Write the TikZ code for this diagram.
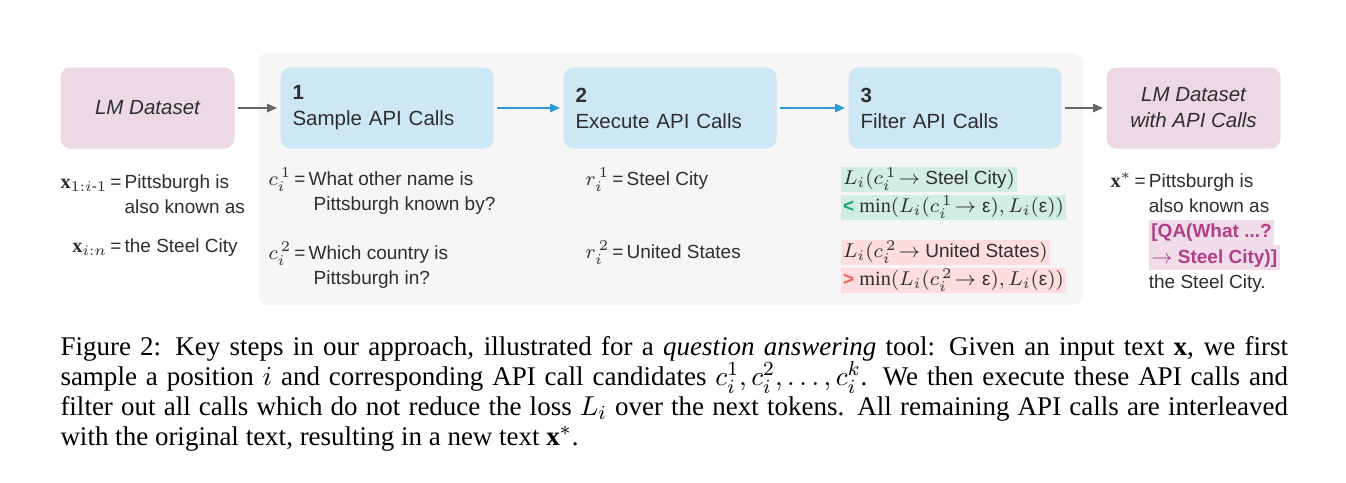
\documentclass[tikz,border=0pt]{standalone}
\usepackage{amsmath}
\usepackage{fontspec}
\setmainfont{Liberation Serif}
\newfontfamily\diagfont{Liberation Sans}
\usetikzlibrary{arrows.meta,positioning}

\definecolor{boxpink}{HTML}{EDD9E5}
\definecolor{boxblue}{HTML}{CDE7F5}
\definecolor{panelgray}{HTML}{F6F6F6}
\definecolor{textgray}{HTML}{2E2E2E}
\definecolor{arrowgray}{HTML}{666666}
\definecolor{arrowblue}{HTML}{2A98DA}
\definecolor{keepbg}{HTML}{D2EEE4}
\definecolor{keepsign}{HTML}{17A27A}
\definecolor{dropbg}{HTML}{FDDDDD}
\definecolor{dropsign}{HTML}{EF5F5A}
\definecolor{callbg}{HTML}{F2DCEA}
\definecolor{calltext}{HTML}{B0408A}

% math a little larger than the sans text
\DeclareMathSizes{7.6}{8.1}{6}{5}

% highlighted line of fixed height
\newcommand\hlline[2]{{\setlength\fboxsep{0pt}\colorbox{#1}{\rule[-2.8pt]{0pt}{10pt}\hspace{1pt}#2\hspace{1pt}}}}
\newcommand\eps{\text{ε}}

\begin{document}
\begin{tikzpicture}[x=0.4pt,y=-0.4pt,
	every node/.style={inner sep=0pt, text=textgray, font=\diagfont\fontsize{7.6}{10}\selectfont},
	databox/.style={fill=boxpink, rounded corners=4pt, minimum width=69.6pt, minimum height=32.4pt,
		align=center, font=\diagfont\itshape\fontsize{8.2}{10.4}\selectfont},
	stagebox/.style={fill=boxblue, rounded corners=4pt, text width=75.6pt, inner xsep=4.8pt,
		minimum height=32.4pt, align=left, font=\diagfont\fontsize{8.2}{10.4}\selectfont},
	notes/.style={anchor=north west, align=left},
	grayflow/.style={draw=arrowgray, line width=0.6pt, -{Triangle[length=4pt,width=3.4pt]}, shorten <=1.2pt, shorten >=1.2pt},
	blueflow/.style={draw=arrowblue, line width=0.6pt, -{Triangle[length=4pt,width=3.4pt]}, shorten <=1.2pt, shorten >=1.2pt},
]
\useasboundingbox (0,0) rectangle (1346,482);
\fill[white] (0,0) rectangle (1346,482);

% steps panel
\fill[panelgray, rounded corners=4pt] (258,53) rectangle (1083,305);

% boxes
\node[databox, anchor=north west] (lmdata) at (60,67) {LM Dataset};
\node[stagebox, anchor=north west] (sample) at (280,67) {\textbf{1}\\Sample API Calls};
\node[stagebox, anchor=north west] (execute) at (563,67) {\textbf{2}\\Execute API Calls};
\node[stagebox, anchor=north west] (filter) at (848,67) {\textbf{3}\\Filter API Calls};
\node[databox, anchor=north west] (augdata) at (1106,67) {LM Dataset\\with API Calls};

\draw[grayflow] (lmdata) -- (sample);
\draw[blueflow] (sample) -- (execute);
\draw[blueflow] (execute) -- (filter);
\draw[grayflow] (filter) -- (augdata);

% example texts
\node[notes] (inputtext) at (60,170) {%
	\begin{tabular}{@{}r@{\,}l@{\,}l@{}}
		$\mathbf{x}_{1:i\text{-}1}$ & = & Pittsburgh is\\
		& & also known as\\[5.6pt]
		$\mathbf{x}_{i:n}$ & = & the Steel City
	\end{tabular}};
\node[notes] (calls) at (268,167) {%
	\begin{tabular}{@{}l@{\,}l@{\,}l@{}}
		$c_i^{\,1}$ & = & What other name is\\
		& & \hspace{2pt}Pittsburgh known by?\\[9.6pt]
		$c_i^{\,2}$ & = & Which country is\\
		& & \hspace{2pt}Pittsburgh in?
	\end{tabular}};
\node[notes] (results) at (585,167) {%
	\begin{tabular}{@{}l@{\,}l@{\,}l@{}}
		$r_i^{\,1}$ & = & Steel City\\[19.2pt]
		$r_i^{\,2}$ & = & United States
	\end{tabular}};
\node[notes, font=\diagfont\fontsize{7.6}{11.2}\selectfont] (losses) at (840,166) {%
	\hlline{keepbg}{$L_i(c_i^{\,1}\!\rightarrow$ Steel City$)$}\\
	\hlline{keepbg}{\textcolor{keepsign}{\textbf{<}} $\min(L_i(c_i^{\,1}\!\rightarrow\eps), L_i(\eps))$}\\[6.8pt]
	\hlline{dropbg}{$L_i(c_i^{\,2}\!\rightarrow$ United States$)$}\\
	\hlline{dropbg}{\textcolor{dropsign}{\textbf{>}} $\min(L_i(c_i^{\,2}\!\rightarrow\eps), L_i(\eps))$}};
\node[notes] (output) at (1110,169) {%
	\begin{tabular}{@{}l@{\,}l@{\,}l@{}}
		$\mathbf{x}^*$ & = & Pittsburgh is\\
		& & also known as\\
		& & \hlline{callbg}{\textcolor{calltext}{\textbf{[QA(What ...?}}}\\
		& & \hlline{callbg}{\textcolor{calltext}{\textbf{$\rightarrow$ Steel City)]}}}\\
		& & the Steel City.
	\end{tabular}};

% caption
\node[anchor=north west, text width=491pt, align=justify, text=black,
	font=\rmfamily\fontsize{10.8}{12}\selectfont] (caption) at (60,336)
	{Figure 2: Key steps in our approach, illustrated for a \textit{question answering} tool: Given an input text $\mathbf{x}$, we first\linebreak
	sample a position $i$ and corresponding API call candidates $c_i^1, c_i^2, \ldots, c_i^k$. We then execute these API calls and\linebreak
	filter out all calls which do not reduce the loss $L_i$ over the next tokens. All remaining API calls are interleaved\linebreak
	with the original text, resulting in a new text $\mathbf{x}^*$.};
\end{tikzpicture}
\end{document}
